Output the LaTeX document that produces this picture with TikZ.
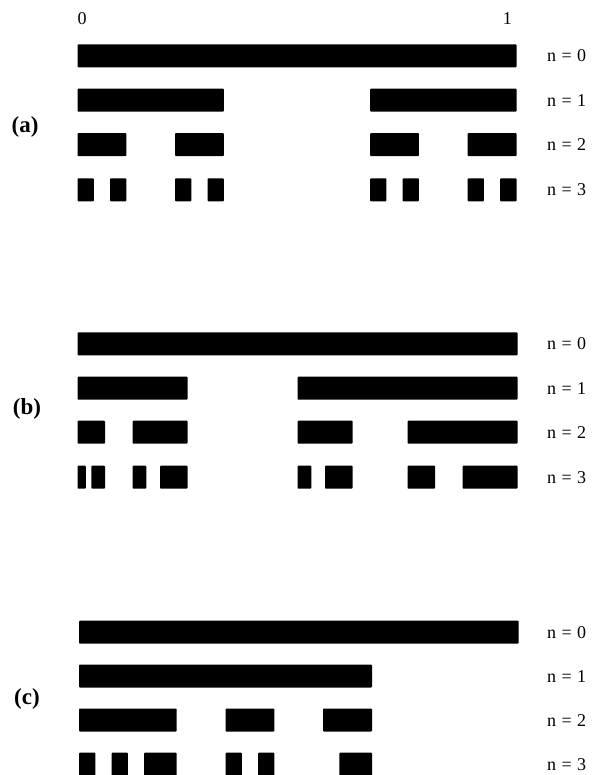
\documentclass[tikz,border=0pt]{standalone}
\usepackage{fontspec}
\setmainfont{Liberation Serif}
\begin{document}
\begin{tikzpicture}[
  x=1pt,
  y=-1pt,
  bar/.style={fill=black,rounded corners=0.8pt},
  nlab/.style={anchor=west,inner sep=0pt,font=\fontsize{18}{18}\selectfont},
  plab/.style={inner sep=0pt,font=\fontsize{23}{23}\selectfont\bfseries},
  endlab/.style={inner sep=0pt,font=\fontsize{18}{18}\selectfont}
]
  \useasboundingbox (0,0) rectangle (596,775);

  % (a): middle thirds
  \node[endlab,anchor=west] (zero) at (77.5,19) {0};
  \node[endlab,anchor=east] (one) at (512,19) {1};
  \node[plab] (lab-a) at (25,126.5) {(a)};
  \begin{scope}[shift={(77.5,44.3)},x=16.259pt]
    \fill[bar] (0,0) rectangle (27,23);
    \foreach \a/\b in {0/9,18/27} {
      \fill[bar] (\a,44.3) rectangle (\b,67.3);
    }
    \foreach \a/\b in {0/3,6/9,18/21,24/27} {
      \fill[bar] (\a,88.8) rectangle (\b,111.8);
    }
    \foreach \a/\b in {0/1,2/3,6/7,8/9,18/19,20/21,24/25,26/27} {
      \fill[bar] (\a,134) rectangle (\b,157);
    }
  \end{scope}
  \foreach \n in {0,...,3} {
    \node[nlab] (a-n\n) at (547,{55.8+44.5*\n}) {n\hspace{0.3em}=\hspace{0.3em}\n};
  }

  % (b): quarters and halves
  \node[plab] (lab-b) at (27,409) {(b)};
  \begin{scope}[shift={(77.5,332.3)},x=6.875pt]
    \fill[bar] (0,0) rectangle (64,23);
    \foreach \a/\b in {0/16,32/64} {
      \fill[bar] (\a,44.4) rectangle (\b,67.4);
    }
    \foreach \a/\b in {0/4,8/16,32/40,48/64} {
      \fill[bar] (\a,88.4) rectangle (\b,111.4);
    }
    \foreach \a/\b in {0/1.2,2/4,8/10,12/16,32/34,36/40,48/52,56/64} {
      \fill[bar] (\a,133.4) rectangle (\b,156.4);
    }
  \end{scope}
  \foreach \n in {0,...,3} {
    \node[nlab] (b-n\n) at (547,{343.8+44.5*\n}) {n\hspace{0.3em}=\hspace{0.3em}\n};
  }

  % (c): ninths
  \node[plab] (lab-c) at (27,699) {(c)};
  \begin{scope}[shift={(79,620.7)},x=16.278pt]
    \fill[bar] (0,0) rectangle (27,23);
    \fill[bar] (0,43.8) rectangle (18,66.8);
    \foreach \a/\b in {0/6,9/12,15/18} {
      \fill[bar] (\a,87.8) rectangle (\b,110.8);
    }
    \foreach \a/\b in {0/1,2/3,4/6,9/10,11/12,16/18} {
      \fill[bar] (\a,132) rectangle (\b,155);
    }
  \end{scope}
  \foreach \n in {0,...,3} {
    \node[nlab] (c-n\n) at (547,{632.2+44*\n}) {n\hspace{0.3em}=\hspace{0.3em}\n};
  }
\end{tikzpicture}
\end{document}
